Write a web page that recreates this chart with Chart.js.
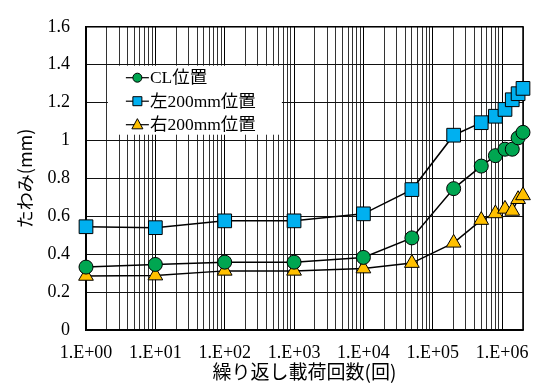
<!DOCTYPE html>
<html>
<head>
<meta charset="utf-8">
<script src="https://cdn.jsdelivr.net/npm/chart.js@4"></script>
<style>html,body{margin:0;padding:0;background:#fff}</style>
</head>
<body>
<canvas id="myChart" width="536" height="383"></canvas>
<script>
// 繰り返し載荷回数
const cycles = [1, 10, 100, 1000, 10000, 50000, 200000, 500000, 800000, 1100000, 1400000, 1700000, 2000000]
// たわみ(mm)
const clPos = [0.332, 0.346, 0.358, 0.358, 0.383, 0.486, 0.746, 0.865, 0.92, 0.954, 0.954, 1.014, 1.043]
const left200 = [0.545, 0.54, 0.576, 0.576, 0.613, 0.741, 1.028, 1.094, 1.128, 1.164, 1.215, 1.247, 1.275]
const right200 = [0.285, 0.287, 0.312, 0.312, 0.324, 0.353, 0.46, 0.58, 0.615, 0.639, 0.628, 0.69, 0.71]
const seriesNames = ["CL位置", "左200mm位置", "右200mm位置"]
const decadeLabels = ["1.E+00", "1.E+01", "1.E+02", "1.E+03", "1.E+04", "1.E+05", "1.E+06"]
const xMin = 1, xMax = 2000000
const yMin = 0, yMax = 1.6, yStep = 0.2

const serif = "Liberation Serif, Noto Sans CJK JP, serif"
Chart.defaults.color = '#000'

function pts(vals){ return cycles.map((c,i)=>({x:c, y:vals[i]})) }

function drawMarker(ctx, style, x, y, r){
  ctx.beginPath()
  if(style==='circle'){ ctx.arc(x,y,r,0,Math.PI*2) }
  else if(style==='rect'){ ctx.rect(x-r,y-r,2*r,2*r) }
  else { ctx.moveTo(x,y-r*1.1); ctx.lineTo(x+r,y+r*0.75); ctx.lineTo(x-r,y+r*0.75); ctx.closePath() }
  ctx.fill(); ctx.stroke()
}

// frame + legend drawn over the grid, under the data
const boxPlugin = {
  id:'boxPlugin',
  beforeDatasetsDraw(chart){
    const {ctx, chartArea:a, scales} = chart
    ctx.save()
    // legend box
    const lx = scales.x.getPixelForValue(2)+1
    const ly = scales.y.getPixelForValue(1.4)+1
    ctx.fillStyle='#fff'
    ctx.fillRect(lx, ly, 174, 69)
    ctx.font = "17.5px " + serif
    ctx.textBaseline='middle'
    chart.data.datasets.forEach((ds,i)=>{
      const y = ly + 12 + i*23.5
      ctx.strokeStyle='#000'; ctx.lineWidth=1.2
      ctx.beginPath(); ctx.moveTo(lx+18,y); ctx.lineTo(lx+41,y); ctx.stroke()
      ctx.fillStyle=ds.pointBackgroundColor; ctx.lineWidth=1
      drawMarker(ctx, ds.pointStyle, lx+29.5, y, ds.pointStyle==='triangle'?5.5:4.5)
      ctx.fillStyle='#000'
      ctx.fillText(ds.label, lx+42, y+1)
    })
    // plot frame
    ctx.strokeStyle='#000'; ctx.lineWidth=1.5
    ctx.strokeRect(a.left, a.top, a.right-a.left, a.bottom-a.top)
    ctx.restore()
  }
}

const common = {borderColor:'#000', borderWidth:1.5, pointBorderColor:'#000', pointBorderWidth:1, tension:0, clip:false}

function makeChart(){
new Chart(document.getElementById('myChart'), {
  type:'line',
  data:{
    datasets:[
      Object.assign({label:seriesNames[0], data:pts(clPos), pointStyle:'circle', pointRadius:7, pointHoverRadius:7, pointBackgroundColor:'#00A651'}, common),
      Object.assign({label:seriesNames[1], data:pts(left200), pointStyle:'rect', pointRadius:9.7, pointHoverRadius:9.7, pointBackgroundColor:'#00B0F0'}, common),
      Object.assign({label:seriesNames[2], data:pts(right200), pointStyle:'triangle', pointRadius:8.5, pointHoverRadius:8.5, pointBackgroundColor:'#FFC000'}, common)
    ]
  },
  options:{
    responsive:false,
    animation:false,
    layout:{padding:{top:17, right:13, left:0, bottom:0}},
    plugins:{legend:{display:false}, tooltip:{enabled:false}},
    scales:{
      x:{
        type:'logarithmic', min:xMin, max:xMax,
        afterFit(s){ s.height = 53 },
        afterBuildTicks(s){
          const t=[]
          for(let e=0;e<=6;e++) for(let m=1;m<=9;m++){ const v=m*Math.pow(10,e); if(v<=xMax) t.push({value:v}) }
          s.ticks=t
        },
        ticks:{
          autoSkip:false, maxRotation:0, padding:12, color:'#000',
          font:{family:serif, size:18},
          callback(v){ const e=Math.log10(v); const r=Math.round(e); return Math.abs(e-r)<1e-9 ? decadeLabels[r] : '' }
        },
        grid:{drawTicks:false, color:(c)=>{ const v=c.tick&&c.tick.value; if(!v) return '#000'; const e=Math.log10(v); return Math.abs(e-Math.round(e))<1e-9 ? '#000' : '#333' }, lineWidth:1},
        border:{color:'#000', width:1.5},
        title:{display:true, text:'繰り返し載荷回数(回)', color:'#000', font:{family:"Noto Sans CJK JP, sans-serif", size:19}, padding:{top:0, bottom:0}}
      },
      y:{
        min:yMin, max:yMax,
        afterFit(s){ s.width = 86 },
        ticks:{stepSize:yStep, padding:16, color:'#000', font:{family:serif, size:18}, callback(v){ return String(+v.toFixed(1)) }},
        grid:{drawTicks:false, color:'#111', lineWidth:1},
        border:{color:'#000', width:1.5},
        title:{display:true, text:'たわみ(mm)', color:'#000', font:{family:"Noto Sans CJK JP, sans-serif", size:18}, padding:{top:14, bottom:0}}
      }
    }
  },
  plugins:[boxPlugin]
})
}

if (document.fonts && document.fonts.load) {
  Promise.all([
    document.fonts.load("18px Liberation Serif", "1.E+0"),
    document.fonts.load("18px Noto Sans CJK JP", "たわみ")
  ]).then(makeChart, makeChart)
} else makeChart()
</script>
</body>
</html>
